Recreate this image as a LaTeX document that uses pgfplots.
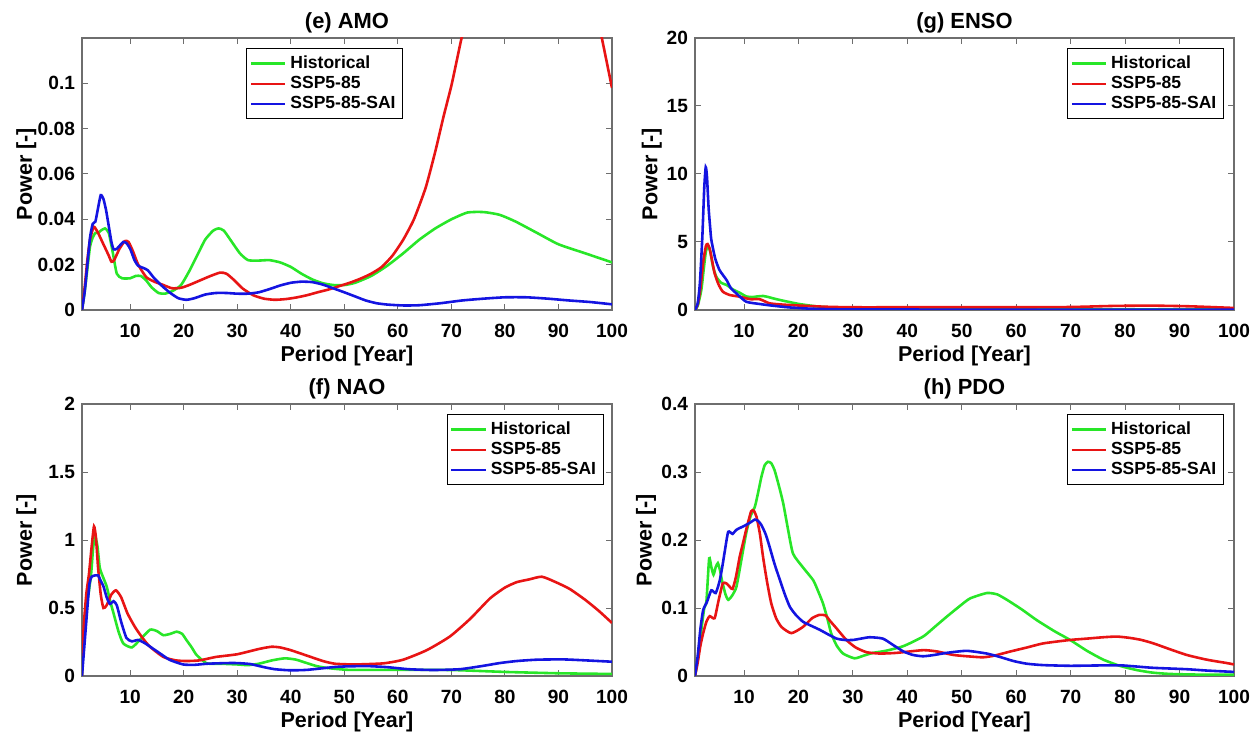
\documentclass[border=0pt]{standalone}
\usepackage{fontspec}
\setmainfont{Liberation Sans}
\usepackage{pgfplots}
\pgfplotsset{compat=1.18}
\definecolor{histg}{RGB}{40,230,40}
\definecolor{sspr}{RGB}{232,20,20}
\definecolor{saib}{RGB}{20,20,225}
\definecolor{axgray}{RGB}{110,110,110}

\pgfplotsset{
  panel/.style={
    scale only axis, height=136bp,
    xmin=1, xmax=100, xtick={10,20,...,100}, ymin=0,
    tick align=inside, major tick length=3bp,
    axis line style={axgray, line width=0.6pt}, tick style={axgray, line width=0.5pt},
    tick label style={font=\fontsize{9.6}{10}\selectfont\bfseries},
    xticklabel style={yshift=-3.5bp},
    /pgf/number format/assume math mode=true,
    scaled y ticks=false,
    yticklabel style={/pgf/number format/fixed, /pgf/number format/precision=3},
    label style={font=\fontsize{10.8}{12}\selectfont\bfseries},
    title style={font=\fontsize{11}{13}\selectfont\bfseries, at={(axis description cs:0.5,1.012)}, anchor=center},
    xlabel={Period [Year]}, ylabel={Power [-]},
    xlabel style={at={(axis description cs:0.5,-0.17)}, anchor=center},
    legend style={font=\fontsize{8.8}{10}\selectfont\bfseries, draw=black, line width=0.5pt,
      inner sep=1.5pt, row sep=-1.5pt, fill=white},
    legend cell align=left,
    legend image code/.code={\draw[#1] (0cm,0cm) -- (0.6cm,0cm);},
    every axis plot/.append style={line width=1.3pt, smooth, tension=0.35},
  },
}

\begin{document}
\begin{tikzpicture}
\useasboundingbox (0,0) rectangle (626.5bp,370bp);

% (e) AMO
\begin{axis}[panel, at={(41bp,215bp)}, anchor=south west, width=265bp,
  ymax=0.12, ytick={0,0.02,...,0.1}, title={(e) AMO},
  ylabel style={at={(axis description cs:-0.105,0.5)}, anchor=center},
  legend style={at={(0.31,0.963)}, anchor=north west}]
\addplot[histg] coordinates {(1,0) (1.5,0.008) (2,0.018) (2.5,0.028) (3,0.032) (3.5,0.034) (4,0.034) (4.5,0.035) (5.3,0.036) (6,0.034) (6.7,0.026) (7.5,0.016) (8.5,0.014) (10,0.014) (11,0.015) (12,0.015) (13,0.013) (14,0.010) (15.3,0.0075) (16.5,0.0072) (18,0.0085) (19.5,0.011) (21,0.017) (22.5,0.024) (24,0.031) (25.5,0.035) (26.5,0.036) (27.5,0.035) (29,0.030) (30.5,0.025) (32,0.022) (34,0.0218) (36,0.022) (38,0.021) (40,0.019) (42,0.016) (44,0.0135) (46,0.0118) (48,0.011) (50,0.011) (52,0.012) (55,0.015) (58,0.0195) (61,0.025) (64,0.031) (67,0.036) (70,0.040) (73,0.043) (76,0.0432) (79,0.042) (82,0.039) (86,0.034) (90,0.029) (95,0.025) (100,0.021)};
\addplot[sspr] coordinates {(1,0) (1.5,0.01) (2,0.022) (2.5,0.031) (3.2,0.0367) (4,0.034) (5,0.029) (6,0.024) (6.5,0.0213) (7,0.022) (8,0.027) (9,0.0304) (9.7,0.030) (10.5,0.026) (11.5,0.020) (13,0.0145) (14.5,0.0125) (16,0.0112) (17.8,0.0096) (19.5,0.0098) (21,0.011) (23,0.013) (25,0.015) (26.8,0.0165) (28,0.016) (29.5,0.013) (31,0.0095) (33,0.0065) (35,0.005) (37,0.0045) (39,0.0048) (41,0.0055) (43,0.0065) (45,0.0078) (47,0.009) (49,0.0105) (51,0.012) (53,0.0138) (55,0.016) (57,0.019) (59,0.024) (61,0.031) (63,0.040) (65.2,0.054) (67,0.070) (68.5,0.085) (70,0.099) (71,0.110) (72,0.121) (74,0.14) (78,0.17) (82,0.19) (86,0.195) (90,0.185) (94,0.16) (97,0.132) (98.1,0.12) (100,0.098)};
\addplot[saib] coordinates {(1,0) (1.5,0.008) (2,0.02) (2.5,0.032) (3,0.038) (3.5,0.039) (4,0.045) (4.5,0.0507) (5,0.049) (5.5,0.044) (6,0.037) (6.5,0.030) (6.9,0.0268) (7.5,0.027) (8.7,0.030) (9.3,0.0295) (10,0.027) (10.8,0.022) (11.5,0.0195) (12.5,0.0185) (13.3,0.0175) (14.5,0.014) (16,0.0105) (17.5,0.0075) (19,0.0052) (20.5,0.0045) (22,0.0052) (24,0.0068) (26,0.0075) (28,0.0075) (30,0.0072) (32,0.0072) (34,0.0078) (36,0.0092) (38,0.0108) (40,0.012) (42,0.0125) (44,0.0123) (46,0.0112) (48,0.0095) (50,0.0078) (52,0.006) (54,0.0042) (56,0.003) (58,0.0024) (61,0.002) (64,0.0021) (68,0.003) (72,0.0042) (76,0.005) (80,0.0056) (84,0.0056) (88,0.005) (92,0.0042) (96,0.0035) (100,0.0025)};
\legend{Historical, SSP5-85, SSP5-85-SAI}
\end{axis}

% (g) ENSO
\begin{axis}[panel, at={(347.5bp,215bp)}, anchor=south west, width=269.5bp,
  ymax=20, ytick={0,5,...,20}, title={(g) ENSO},
  ylabel style={at={(axis description cs:-0.08,0.5)}, anchor=center},
  legend style={at={(0.981,0.963)}, anchor=north east}]
\addplot[histg] coordinates {(1,0) (1.5,0.3) (2.16,1.47) (2.6,3.0) (3,4.3) (3.4,4.75) (3.8,4.3) (4.3,3.2) (4.9,2.45) (5.8,2.0) (6.8,1.84) (8,1.5) (9.2,1.27) (10.4,1.0) (11.5,0.95) (12.5,1.0) (13.5,1.03) (14.5,0.95) (15.3,0.86) (17,0.7) (20,0.45) (23,0.28) (26,0.18) (30,0.1) (35,0.07) (50,0.06) (70,0.05) (100,0.05)};
\addplot[sspr] coordinates {(1,0) (1.5,0.4) (2,1.6) (2.5,3.5) (3,4.7) (3.3,4.85) (3.7,4.5) (4.2,3.5) (4.6,2.7) (5.3,1.9) (6.1,1.35) (7.4,1.1) (9.2,0.98) (10.5,0.85) (11.3,0.79) (12.9,0.79) (14.7,0.49) (17,0.4) (20,0.33) (25,0.24) (30,0.2) (40,0.2) (50,0.2) (60,0.2) (70,0.22) (78,0.3) (85,0.32) (92,0.27) (100,0.15)};
\addplot[saib] coordinates {(1,0) (1.5,0.5) (1.9,2.0) (2.35,5.4) (2.7,9.0) (2.97,10.5) (3.2,9.8) (3.5,7.5) (3.8,6.0) (4.0,5.15) (4.7,3.8) (5.5,2.94) (6.8,2.2) (7.6,1.6) (8.6,1.22) (10.4,0.61) (12.9,0.44) (15,0.33) (18,0.2) (22,0.1) (26,0.06) (30,0.04) (50,0.03) (70,0.03) (100,0.02)};
\legend{Historical, SSP5-85, SSP5-85-SAI}
\end{axis}

% (f) NAO
\begin{axis}[panel, at={(41bp,32bp)}, anchor=south west, width=265bp,
  ymax=2, ytick={0,0.5,...,2}, title={(f) NAO},
  ylabel style={at={(axis description cs:-0.105,0.5)}, anchor=center},
  legend style={at={(0.984,0.963)}, anchor=north east}]
\addplot[histg] coordinates {(1,0) (1.3,0.3) (1.7,0.5) (2.2,0.6) (2.7,0.75) (3.1,0.95) (3.5,1.02) (3.9,0.95) (4.3,0.8) (4.7,0.75) (5.6,0.66) (6.2,0.56) (6.9,0.46) (7.8,0.33) (8.7,0.24) (10.3,0.21) (11.8,0.265) (13.7,0.34) (15,0.33) (16.2,0.30) (17.5,0.31) (18.7,0.326) (19.7,0.31) (20.5,0.265) (21.5,0.21) (22.4,0.155) (24.3,0.093) (27,0.09) (30,0.085) (32,0.08) (34,0.09) (36.5,0.115) (38.9,0.13) (41,0.12) (43,0.095) (44.8,0.073) (47,0.058) (51,0.045) (60,0.045) (70,0.044) (80,0.03) (90,0.02) (100,0.015)};
\addplot[sspr] coordinates {(1,0) (1.3,0.35) (1.8,0.6) (2.3,0.75) (2.8,0.95) (3.24,1.10) (3.6,1.02) (4.0,0.8) (4.5,0.6) (5.0,0.50) (5.6,0.52) (6.5,0.6) (7.35,0.63) (8.3,0.58) (9.5,0.46) (10.9,0.36) (12.3,0.28) (13.7,0.215) (16.2,0.14) (18.5,0.115) (20.5,0.11) (23,0.115) (26,0.14) (30,0.16) (34.2,0.2) (36.4,0.215) (38,0.21) (40,0.19) (43,0.15) (46,0.11) (48.3,0.09) (52,0.085) (57.3,0.093) (61,0.12) (65.4,0.19) (69.7,0.29) (73.5,0.42) (77.2,0.57) (80,0.65) (82.2,0.69) (84.5,0.71) (86.9,0.73) (89.5,0.69) (92.1,0.64) (95,0.56) (97.5,0.48) (100,0.39)};
\addplot[saib] coordinates {(1,0) (1.5,0.25) (2,0.5) (2.4,0.68) (2.8,0.73) (3.5,0.74) (4,0.74) (4.5,0.7) (5.0,0.66) (5.6,0.58) (6.2,0.53) (6.9,0.55) (7.5,0.52) (8.3,0.4) (9.3,0.28) (10.3,0.255) (11.5,0.265) (12.8,0.24) (14.3,0.2) (15.8,0.16) (17.4,0.118) (19.9,0.085) (22,0.082) (24.3,0.09) (28,0.095) (30,0.095) (32.4,0.088) (35,0.065) (37,0.05) (39.8,0.042) (43,0.045) (47.9,0.065) (50,0.07) (54.2,0.073) (58,0.065) (62,0.05) (66.6,0.044) (71.6,0.05) (76,0.075) (79,0.095) (82.2,0.11) (86,0.12) (90.9,0.122) (95,0.115) (100,0.105)};
\legend{Historical, SSP5-85, SSP5-85-SAI}
\end{axis}

% (h) PDO
\begin{axis}[panel, at={(347.5bp,32bp)}, anchor=south west, width=269.5bp,
  ymax=0.4, ytick={0,0.1,...,0.4}, title={(h) PDO},
  ylabel style={at={(axis description cs:-0.091,0.5)}, anchor=center},
  legend style={at={(0.981,0.963)}, anchor=north east}]
\addplot[histg] coordinates {(1,0) (1.6,0.03) (2.2,0.07) (2.7,0.1) (3.1,0.11) (3.6,0.173) (4.0,0.16) (4.4,0.149) (4.8,0.16) (5.2,0.166) (5.6,0.155) (6.0,0.139) (6.6,0.12) (7.1,0.112) (7.8,0.118) (8.6,0.131) (9.5,0.17) (10.4,0.21) (11.2,0.235) (12.0,0.249) (12.6,0.27) (13.2,0.293) (13.8,0.31) (14.4,0.315) (15.0,0.313) (15.6,0.303) (16.4,0.28) (17.2,0.254) (18.1,0.215) (19.0,0.18) (20.8,0.16) (22.7,0.141) (23.6,0.125) (24.5,0.107) (25.3,0.085) (26.0,0.063) (27,0.045) (28.2,0.033) (30.3,0.026) (32,0.03) (33.7,0.034) (36,0.037) (39.3,0.044) (42.9,0.058) (45,0.072) (47.2,0.087) (49.5,0.102) (51.5,0.114) (54.6,0.122) (56.5,0.12) (58.3,0.112) (61,0.098) (63.8,0.082) (67,0.066) (69.9,0.053) (73,0.037) (76,0.024) (79,0.015) (82.1,0.0088) (85,0.005) (88.3,0.003) (94,0.002) (100,0.002)};
\addplot[sspr] coordinates {(1,0) (1.5,0.02) (2,0.045) (2.5,0.063) (3.1,0.08) (3.7,0.088) (4.6,0.085) (5.3,0.11) (6.1,0.136) (6.8,0.136) (7.4,0.131) (7.9,0.128) (8.5,0.145) (9.2,0.175) (9.8,0.195) (10.4,0.215) (11.3,0.242) (11.8,0.243) (12.3,0.234) (12.9,0.21) (13.5,0.175) (14.2,0.14) (15.0,0.107) (15.9,0.085) (16.9,0.072) (18.7,0.063) (20.8,0.072) (22.5,0.085) (23.9,0.090) (25.0,0.089) (25.7,0.082) (27,0.07) (28.8,0.053) (30.5,0.042) (32.5,0.035) (35,0.033) (38,0.034) (42.9,0.038) (45.5,0.036) (48.4,0.031) (51,0.029) (53.9,0.0275) (56,0.030) (58.9,0.036) (62,0.042) (65,0.048) (69.9,0.053) (73,0.055) (76,0.057) (78.5,0.058) (80.9,0.056) (83,0.053) (85.2,0.048) (88,0.04) (91.3,0.031) (95,0.024) (98.7,0.019) (100,0.017)};
\addplot[saib] coordinates {(1,0) (1.5,0.03) (2,0.07) (2.5,0.097) (3.2,0.109) (4.0,0.126) (4.8,0.122) (5.5,0.139) (6.0,0.16) (6.5,0.185) (7.1,0.212) (7.9,0.209) (8.6,0.215) (10.1,0.221) (11,0.225) (12.0,0.230) (12.6,0.228) (13.2,0.222) (14.0,0.208) (14.7,0.19) (15.6,0.165) (16.6,0.141) (17.5,0.12) (18.4,0.102) (19.5,0.09) (20.8,0.08) (22.3,0.074) (23.9,0.068) (25.5,0.061) (27.0,0.055) (28.5,0.053) (30.0,0.053) (31.5,0.055) (33.1,0.057) (35.5,0.055) (37.5,0.045) (39.3,0.036) (41,0.031) (42.9,0.029) (45,0.031) (47.2,0.034) (50.9,0.037) (54.6,0.033) (57,0.028) (59.5,0.022) (62,0.018) (65,0.016) (69.9,0.015) (75,0.0155) (79.1,0.0157) (82,0.014) (85.2,0.012) (91.3,0.01) (95,0.008) (100,0.006)};
\legend{Historical, SSP5-85, SSP5-85-SAI}
\end{axis}
\end{tikzpicture}
\end{document}
